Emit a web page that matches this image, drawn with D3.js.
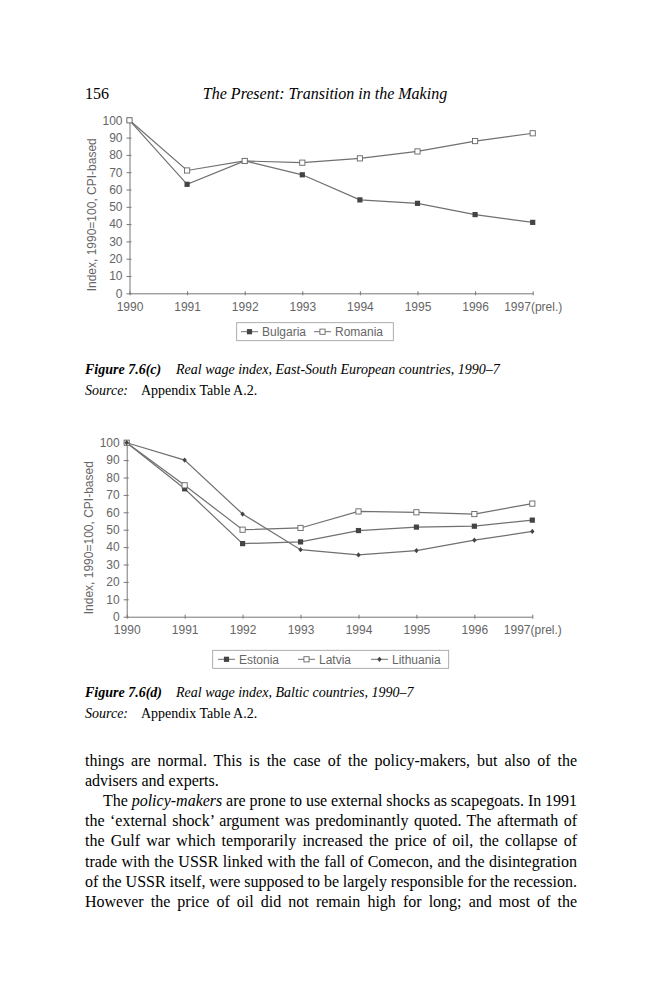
<!DOCTYPE html>
<html>
<head>
<meta charset="utf-8">
<script src="https://cdn.jsdelivr.net/npm/d3@7"></script>
<style>
  body { margin: 0; background: #fff; }
  svg { display: block; }
</style>
</head>
<body>
<script>
var years = ["1990", "1991", "1992", "1993", "1994", "1995", "1996", "1997(prel.)"]
var yTicks = [0, 10, 20, 30, 40, 50, 60, 70, 80, 90, 100]

var bulgaria = [100, 63, 76.5, 68.5, 54, 52, 45.5, 41]
var romania = [100, 71, 76.5, 75.5, 78, 82, 88, 92.5]

var estonia = [100, 73.5, 42, 43, 49.5, 51.5, 52, 55.5]
var latvia = [100, 75.5, 50, 51, 60.5, 60, 59, 65]
var lithuania = [100, 90, 59, 38.5, 35.5, 38, 44, 49]

var bodyLines = [
  ["things are normal. This is the case of the policy-makers, but also of the", true],
  ["advisers and experts.", false],
  ["    The |policy-makers| are prone to use external shocks as scapegoats. In 1991", true],
  ["the \u2018external shock\u2019 argument was predominantly quoted. The aftermath of", true],
  ["the Gulf war which temporarily increased the price of oil, the collapse of", true],
  ["trade with the USSR linked with the fall of Comecon, and the disintegration", true],
  ["of the USSR itself, were supposed to be largely responsible for the recession.", true],
  ["However the price of oil did not remain high for long; and most of the", true]
]

var W = 650, H = 985
var serif = "'Liberation Serif', 'Times New Roman', serif"
var sans = "'Liberation Sans', Arial, sans-serif"
var grey = "#666"

var svg = d3.select("body").append("svg")
  .attr("width", W)
  .attr("height", H)
svg.append("rect").attr("width", W).attr("height", H).attr("fill", "#fff")

// running head
svg.append("text").attr("x", 85).attr("y", 99)
  .style("font-family", serif).style("font-size", "16px")
  .text("156")
svg.append("text").attr("x", 325).attr("y", 99)
  .attr("text-anchor", "middle")
  .style("font-family", serif).style("font-size", "16px").style("font-style", "italic")
  .text("The Present: Transition in the Making")

function drawChart(g, opts) {
  var x = d3.scalePoint().domain(years).range([opts.x0, opts.x1])
  var y = d3.scaleLinear().domain([0, 100]).range([opts.y0, opts.y100])

  // axes
  var xAxis = g.append("g")
    .attr("transform", "translate(0," + opts.y0 + ")")
    .call(d3.axisBottom(x).tickSizeOuter(0).tickSizeInner(3).tickPadding(6))
  xAxis.selectAll(".tick line").attr("y1", -2).attr("y2", 2)

  var yAxis = g.append("g")
    .attr("transform", "translate(" + opts.x0 + ",0)")
    .call(d3.axisLeft(y).tickValues(yTicks).tickSizeOuter(0).tickSizeInner(3).tickPadding(4))
  yAxis.selectAll(".tick line").attr("x1", -3).attr("x2", 2)

  g.selectAll(".domain").attr("stroke", "#777")
  g.selectAll(".tick line").attr("stroke", "#777")
  g.selectAll(".tick text")
    .attr("fill", grey)
    .style("font-family", sans)
    .style("font-size", "12px")

  g.append("text")
    .attr("transform", "translate(" + (opts.x0 - 34) + "," + ((opts.y0 + opts.y100) / 2 + 8) + ") rotate(-90)")
    .attr("text-anchor", "middle")
    .attr("fill", grey)
    .style("font-family", sans).style("font-size", "12px")
    .text("Index, 1990=100, CPI-based")

  var line = d3.line()
    .x(function (d, i) { return x(years[i]) })
    .y(function (d) { return y(d) })

  opts.series.forEach(function (s) {
    g.append("path")
      .datum(s.values)
      .attr("fill", "none")
      .attr("stroke", "#707070")
      .attr("stroke-width", 1.2)
      .attr("d", line)
    var pts = g.append("g").selectAll("g")
      .data(s.values)
      .enter()
      .append("g")
      .attr("transform", function (d, i) { return "translate(" + x(years[i]) + "," + y(d) + ")" })
    drawMarker(pts, s.marker)
  })

  // legend
  var lg = g.append("g")
  lg.append("rect")
    .attr("x", opts.legend.x).attr("y", opts.legend.y)
    .attr("width", opts.legend.w).attr("height", opts.legend.h)
    .attr("fill", "#fff").attr("stroke", "#999").attr("stroke-width", 0.8)
  opts.series.forEach(function (s, i) {
    var sx = opts.legend.items[i]
    var cy = opts.legend.y + opts.legend.h / 2
    lg.append("line")
      .attr("x1", sx).attr("x2", sx + 17)
      .attr("y1", cy).attr("y2", cy)
      .attr("stroke", "#707070")
    drawMarker(lg.append("g").attr("transform", "translate(" + (sx + 8.5) + "," + cy + ")"), s.marker)
    lg.append("text")
      .attr("x", sx + 21).attr("y", cy + 4.3)
      .attr("fill", grey)
      .style("font-family", sans).style("font-size", "12px")
      .text(s.name)
  })
}

function drawMarker(sel, type) {
  if (type === "filled") {
    sel.append("rect").attr("x", -2.6).attr("y", -2.6).attr("width", 5.2).attr("height", 5.2)
      .attr("fill", "#444")
  } else if (type === "open") {
    sel.append("rect").attr("x", -2.6).attr("y", -2.6).attr("width", 5.2).attr("height", 5.2)
      .attr("fill", "#fff").attr("stroke", "#666").attr("stroke-width", 0.9)
  } else {
    sel.append("path").attr("d", "M0,-2.6L2.2,0L0,2.6L-2.2,0Z")
      .attr("fill", "#444")
  }
}

drawChart(svg.append("g"), {
  x0: 129.5, x1: 532.7, y0: 293.3, y100: 120.3,
  series: [
    { name: "Bulgaria", values: bulgaria, marker: "filled" },
    { name: "Romania", values: romania, marker: "open" }
  ],
  legend: { x: 236.7, y: 322.7, w: 156.6, h: 18, items: [241, 314] }
})

drawChart(svg.append("g"), {
  x0: 126.7, x1: 532.3, y0: 616.7, y100: 442.7,
  series: [
    { name: "Estonia", values: estonia, marker: "filled" },
    { name: "Latvia", values: latvia, marker: "open" },
    { name: "Lithuania", values: lithuania, marker: "diamond" }
  ],
  legend: { x: 212.7, y: 650.3, w: 236, h: 18, items: [218, 298, 371] }
})

// captions
function caption(yb, label, title) {
  var t = svg.append("text").attr("x", 85).attr("y", yb)
    .style("font-family", serif).style("font-size", "14px").style("font-style", "italic")
  t.append("tspan").style("font-weight", "bold").text(label)
  t.append("tspan").attr("x", 176).text(title)
  var s = svg.append("text").attr("x", 85).attr("y", yb + 21)
    .style("font-family", serif).style("font-size", "14px")
  s.append("tspan").style("font-style", "italic").text("Source:")
  s.append("tspan").attr("x", 141).text("Appendix Table A.2.")
}
caption(374, "Figure 7.6(c)", "Real wage index, East-South European countries, 1990\u20137")
caption(697, "Figure 7.6(d)", "Real wage index, Baltic countries, 1990\u20137")

// body text, justified line by line
var left = 85, right = 577
bodyLines.forEach(function (bl, i) {
  var txt = bl[0]
  var indent = 0
  if (txt.indexOf("    ") === 0) { indent = 18; txt = txt.slice(4) }
  var t = svg.append("text")
    .attr("x", left + indent).attr("y", 766 + i * 20.1)
    .style("font-family", serif).style("font-size", "16px")
    .attr("xml:space", "preserve")
  txt.split("|").forEach(function (part, k) {
    t.append("tspan").style("font-style", k % 2 ? "italic" : "normal").text(part)
  })
  if (bl[1]) {
    var len = t.node().getComputedTextLength()
    var spaces = txt.split(" ").length - 1
    var extra = (right - left - indent - len) / spaces
    t.style("word-spacing", extra + "px")
  }
})
</script>
</body>
</html>
